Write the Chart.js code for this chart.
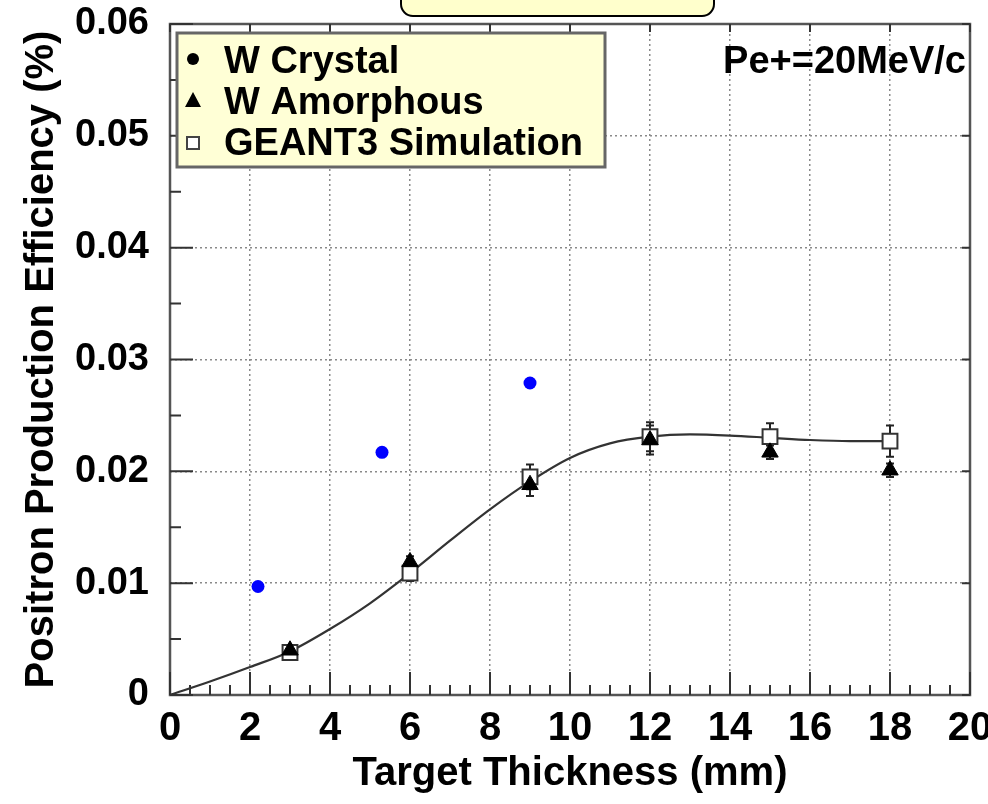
<!DOCTYPE html>
<html><head><meta charset="utf-8">
<script src="https://cdn.jsdelivr.net/npm/chart.js@4"></script>
<style>html,body{margin:0;padding:0;background:#fff}canvas{display:block}</style>
</head><body>
<canvas id="c" width="988" height="804" style="width:988px;height:804px"></canvas>
<script>
// ---- data ----
const xTickLabels = ['0','2','4','6','8','10','12','14','16','18','20'];
const yTickLabels = ['0','0.01','0.02','0.03','0.04','0.05','0.06'];
const crystalX = [2.2, 5.3, 9.0];
const crystalY = [0.0097, 0.0217, 0.0279];
const amorphX = [3, 6, 9, 12, 15, 18];
const amorphY = [0.0040, 0.0119, 0.0188, 0.0228, 0.0217, 0.0201];
const amorphErr = [0.0004, 0.0005, 0.0010, 0.0013, 0.0006, 0.0006];
const simX = [3, 6, 9, 12, 15, 18];
const simY = [0.0038, 0.0109, 0.0195, 0.0231, 0.0231, 0.0227];
const simErr = [0.0004, 0.0007, 0.0011, 0.0013, 0.0012, 0.0014];
const curveX = [0, 1, 2, 3, 4, 5, 6, 7, 8, 9, 10, 11, 12, 13, 14, 15, 16, 17, 18];
const curveY = [0, 0.0012, 0.0025, 0.0039, 0.0059, 0.0082, 0.0109, 0.0138, 0.0166, 0.0191, 0.0212, 0.0225, 0.0231, 0.0233, 0.0232, 0.0230, 0.0228, 0.0227, 0.0227];
const legendLabels = ['W Crystal', 'W Amorphous', 'GEANT3 Simulation'];
const xTitle = 'Target Thickness (mm)';
const yTitle = 'Positron Production Efficiency (%)';
const noteText = 'Pe+=20MeV/c';

const FF = '"Liberation Sans", Arial, Helvetica, sans-serif';
const pts = (xs, ys) => xs.map((x, i) => ({x: x, y: ys[i]}));

const decor = {
  id: 'decor',
  beforeDatasetsDraw(chart) {
    const {ctx, chartArea: a, scales: {x, y}} = chart;
    ctx.save();
    // frame
    ctx.strokeStyle = '#555';
    ctx.lineWidth = 2.5;
    ctx.strokeRect(a.left, a.top, a.right - a.left, a.bottom - a.top);
    // inward ticks
    ctx.lineWidth = 2;
    ctx.strokeStyle = '#333';
    ctx.beginPath();
    for (let v = 0; v <= 20.001; v += 0.5) {
      const px = x.getPixelForValue(v);
      const major = Math.abs(v / 2 - Math.round(v / 2)) < 1e-6;
      const L = major ? 23 : 10;
      ctx.moveTo(px, a.bottom); ctx.lineTo(px, a.bottom - L);
      if (major) { ctx.moveTo(px, a.top); ctx.lineTo(px, a.top + 8); }
    }
    for (let k = 0; k <= 12; k++) {
      const py = y.getPixelForValue(k * 0.005);
      const major = k % 2 === 0;
      const L = major ? 23 : 11;
      ctx.moveTo(a.left, py); ctx.lineTo(a.left + L, py);
      if (major) { ctx.moveTo(a.right, py); ctx.lineTo(a.right - 8, py); }
    }
    ctx.stroke();
    // error bars
    chart.data.datasets.forEach((ds, i) => {
      if (!ds.errors) return;
      const meta = chart.getDatasetMeta(i);
      ctx.strokeStyle = '#222';
      ctx.lineWidth = 2;
      meta.data.forEach((el, j) => {
        const v = ds.data[j].y, e = ds.errors[j];
        const y1 = y.getPixelForValue(v + e), y2 = y.getPixelForValue(v - e);
        ctx.beginPath();
        ctx.moveTo(el.x, y1); ctx.lineTo(el.x, y2);
        ctx.moveTo(el.x - 4, y1); ctx.lineTo(el.x + 4, y1);
        ctx.moveTo(el.x - 4, y2); ctx.lineTo(el.x + 4, y2);
        ctx.stroke();
      });
    });
    ctx.restore();
  },
  afterDraw(chart) {
    const {ctx, chartArea: a} = chart;
    ctx.save();
    // top rounded box
    ctx.beginPath();
    ctx.roundRect(401, -30, 313, 46, 12);
    ctx.fillStyle = '#ffffcc';
    ctx.fill();
    ctx.strokeStyle = '#000';
    ctx.lineWidth = 2;
    ctx.stroke();
    // legend box
    ctx.fillStyle = '#ffffd6';
    ctx.fillRect(177, 33, 428, 134);
    ctx.strokeStyle = '#666';
    ctx.lineWidth = 3;
    ctx.strokeRect(177, 33, 428, 134);
    const rows = [73, 114, 155];
    ctx.fillStyle = '#000';
    ctx.font = 'bold 38px ' + FF;
    ctx.textBaseline = 'alphabetic';
    ctx.textAlign = 'left';
    legendLabels.forEach((t, i) => ctx.fillText(t, 224, rows[i]));
    // legend markers
    ctx.beginPath(); ctx.arc(193, 59, 6, 0, Math.PI * 2); ctx.fill();
    ctx.beginPath(); ctx.moveTo(193, 92); ctx.lineTo(201, 107); ctx.lineTo(185, 107); ctx.closePath(); ctx.fill();
    ctx.strokeStyle = '#444'; ctx.lineWidth = 2;
    ctx.fillStyle = '#fff';
    ctx.fillRect(187, 137, 12, 12);
    ctx.strokeRect(187, 137, 12, 12);
    // note
    ctx.fillStyle = '#000';
    ctx.textAlign = 'right';
    ctx.fillText(noteText, a.right - 4, 73);
    ctx.restore();
  }
};

Chart.defaults.color = '#000';
new Chart(document.getElementById('c'), {
  type: 'scatter',
  data: {
    datasets: [
      {label: legendLabels[0], data: pts(crystalX, crystalY), pointStyle: 'circle', pointRadius: 6.5,
       backgroundColor: '#0000ff', borderColor: '#0000ff', borderWidth: 0},
      {label: legendLabels[1], data: pts(amorphX, amorphY), pointStyle: 'triangle', pointRadius: 9.5,
       backgroundColor: '#000', borderColor: '#000', borderWidth: 1, errors: amorphErr},
      {label: legendLabels[2], data: pts(simX, simY), pointStyle: 'rect', pointRadius: 10.5,
       backgroundColor: '#fff', borderColor: '#333', borderWidth: 2, errors: simErr},
      {label: 'fit', data: pts(curveX, curveY), showLine: true, pointRadius: 0, borderColor: '#333',
       borderWidth: 2.2, cubicInterpolationMode: 'monotone', fill: false}
    ]
  },
  options: {
    responsive: false,
    animation: false,
    events: [],
    layout: {padding: {top: 24, right: 18, left: 0, bottom: 0}},
    plugins: {legend: {display: false}, tooltip: {enabled: false}},
    scales: {
      x: {
        type: 'linear', min: 0, max: 20,
        ticks: {stepSize: 2, padding: 10, color: '#000', font: {size: 40, weight: 'bold', family: FF},
                maxRotation: 0, autoSkip: false, callback: (v, i) => xTickLabels[i]},
        grid: {color: '#8a8a8a', lineWidth: 1.5, drawTicks: false},
        border: {display: false, dash: [2, 3]},
        title: {display: true, text: xTitle, color: '#000', font: {size: 40, weight: 'bold', family: FF},
                padding: {top: 0, bottom: 6}},
        afterFit(s) { s.height = 109; s.paddingLeft = 0; s.paddingRight = 0; }
      },
      y: {
        type: 'linear', min: 0, max: 0.06,
        ticks: {stepSize: 0.01, padding: 21, color: '#000', font: {size: 38, weight: 'bold', family: FF},
                autoSkip: false, callback: (v, i) => yTickLabels[i]},
        grid: {color: '#8a8a8a', lineWidth: 1.5, drawTicks: false},
        border: {display: false, dash: [2, 3]},
        title: {display: true, text: yTitle, color: '#000', font: {size: 40, weight: 'bold', family: FF},
                padding: {top: 18, bottom: 0}},
        afterFit(s) { s.width = 170; s.paddingTop = 0; s.paddingBottom = 0; }
      }
    }
  },
  plugins: [decor]
});
</script>
</body></html>
